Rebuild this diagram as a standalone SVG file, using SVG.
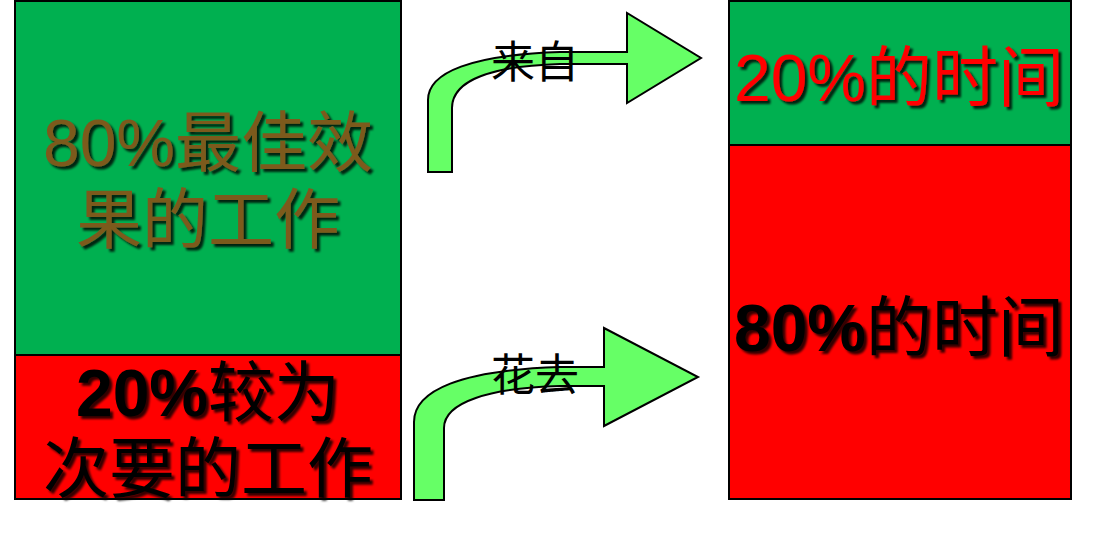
<svg xmlns="http://www.w3.org/2000/svg" width="1114" height="551" viewBox="0 0 1114 551">
<defs>
<filter id="sh" x="-10%" y="-20%" width="120%" height="150%">
<feDropShadow dx="3" dy="3" stdDeviation="1.2" flood-color="#000" flood-opacity="0.8"/>
</filter>
</defs>
<style>
.box{stroke:#000;stroke-width:2}
.g{fill:#00B050}
.r{fill:#FF0000}
.big{font-family:"Liberation Sans","Noto Sans CJK SC",sans-serif;font-size:66px;text-anchor:middle;filter:url(#sh)}
.b{font-weight:bold}
.arrow{fill:#66FF66;stroke:#000;stroke-width:2;stroke-linejoin:miter}
.lbl{font-family:"Noto Sans CJK SC",sans-serif;font-size:44px;text-anchor:middle;fill:#000}
</style>
<rect width="1114" height="551" fill="#fff"/>
<g id="left-top">
<rect class="box g" x="15" y="1" width="386" height="354"/>
<text class="big" fill="#7B5A1E"><tspan x="208" y="166">80%最佳效</tspan><tspan x="208" y="243">果的工作</tspan></text>
</g>
<g id="left-bottom">
<rect class="box r" x="15" y="355" width="386" height="144"/>
<text class="big" fill="#000"><tspan x="208" y="416"><tspan class="b">20%</tspan>较为</tspan><tspan x="208" y="492">次要的工作</tspan></text>
</g>
<g id="right-top">
<rect class="box g" x="729" y="1" width="342" height="144"/>
<text class="big" fill="#FF0000" x="899" y="101">20%的时间</text>
</g>
<g id="right-bottom">
<rect class="box r" x="729" y="145" width="342" height="354"/>
<text class="big" fill="#000" x="899" y="351"><tspan class="b">80%</tspan>的时间</text>
</g>
<g id="connectors">
<g id="arrow-top">
<path class="arrow" d="M428,172 L428,100 C428,72 472,55 560,52 L627,52 L627,13 L701,58 L627,103 L627,64 L560,64 C492,66 452,80 452,108 L452,172 Z"/>
<text class="lbl" x="535" y="78">来自</text>
</g>
<g id="arrow-bottom">
<path class="arrow" d="M414,500 L414,422 C414,390 462,370 560,367 L604,367 L604,328 L698,377 L604,426 L604,386 L560,386 C490,388 444,402 444,428 L444,500 Z"/>
<text class="lbl" x="535" y="391">花去</text>
</g>
</g>
</svg>
